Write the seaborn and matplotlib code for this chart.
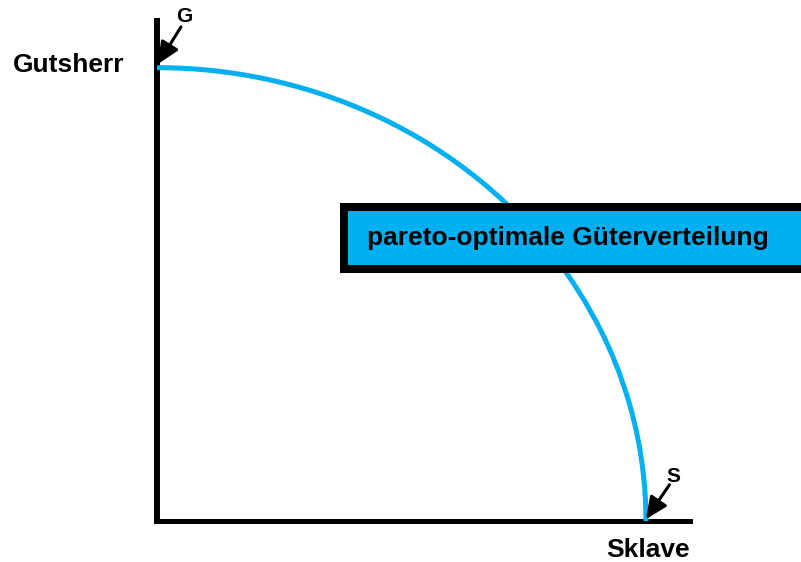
import matplotlib
matplotlib.use("Agg")
import matplotlib.pyplot as plt
import seaborn as sns
import pandas as pd
from matplotlib.patches import Rectangle

# data (% of maximum)
sklave = [0, 2.5, 5, 7.5, 10, 12.5, 15, 17.5, 20, 22.5, 25, 27.5, 30, 32.5, 35, 37.5, 40, 42.5, 45, 47.5,
          50, 52.5, 55, 57.5, 60, 62.5, 65, 67.5, 70, 72.5, 75, 77.5, 80, 82.5, 85, 87.5, 90, 91.5, 93,
          94.5, 96, 97, 98, 98.7, 99.3, 99.7, 99.9, 100]
gutsherr = [100, 99.97, 99.87, 99.72, 99.50, 99.22, 98.87, 98.46, 97.98, 97.44, 96.82, 96.14, 95.39, 94.57,
            93.67, 92.70, 91.65, 90.52, 89.30, 88.00, 86.60, 85.11, 83.52, 81.81, 80.00, 78.06, 75.99, 73.78,
            71.41, 68.87, 66.14, 63.20, 60.00, 56.52, 52.68, 48.41, 43.59, 40.34, 36.76, 32.71, 28.00, 24.31,
            19.90, 16.07, 11.81, 7.74, 4.47, 0]
y_label = "Gutsherr"
x_label = "Sklave"
box_label = "pareto-optimale Güterverteilung"
g_label = "G"
s_label = "S"

sns.set_theme(style="white")
plt.rcParams['font.family'] = ['Liberation Sans', 'DejaVu Sans']
plt.rcParams['text.color'] = 'black'

BLUE = "#00B0F0"
fig = plt.figure(figsize=(8.01, 5.62), dpi=100)
ax = fig.add_axes([157/801, 41.5/562, 533/801, 499.5/562])

df = pd.DataFrame({"x": sklave, "y": gutsherr})
sns.lineplot(data=df, x="x", y="y", ax=ax, color=BLUE, linewidth=3.6, estimator=None, sort=False, zorder=3)

ax.set_xlim(0, 109)
ax.set_ylim(0, 110.3)
ax.set_xticks([])
ax.set_yticks([])
ax.set_xlabel("")
ax.set_ylabel("")
for s in ["top", "right"]:
    ax.spines[s].set_visible(False)
ax.spines["left"].set_linewidth(4.3)
ax.spines["bottom"].set_linewidth(3.6)
for s in ["left", "bottom"]:
    ax.spines[s].set_color("black")
    ax.spines[s].set_zorder(2)

fs = 19
ax.text(-18.0, 100.6, y_label, ha="center", va="center", fontsize=fs, fontweight="bold", color="black", clip_on=False)
ax.text(100.4, -6.6, x_label, ha="center", va="center", fontsize=fs, fontweight="bold", color="black", clip_on=False)

aprops = dict(arrowstyle="-|>,head_length=1.1,head_width=0.5", color="black", lw=2.2, shrinkA=0, shrinkB=0)
ax.annotate("", xy=(0.2, 100.8), xytext=(4.9, 109.0), annotation_clip=False, arrowprops=aprops)
ax.annotate("", xy=(100, 0.3), xytext=(104.8, 7.9), annotation_clip=False, arrowprops=aprops)
ax.text(5.5, 111.2, g_label, ha="center", va="center", fontsize=15, fontweight="bold", color="black", clip_on=False)
ax.text(105.6, 9.8, s_label, ha="center", va="center", fontsize=15, fontweight="bold", color="black", clip_on=False)

# label box
fig.patches.append(Rectangle((340/801, (562-273)/562), 0.7, 70/562, transform=fig.transFigure,
                             facecolor="black", edgecolor="none", zorder=5))
fig.patches.append(Rectangle((348/801, (562-265)/562), 0.7, 54/562, transform=fig.transFigure,
                             facecolor=BLUE, edgecolor="none", zorder=6))
fig.text(367/801, (562-238)/562, box_label, ha="left", va="center", fontsize=fs, fontweight="bold",
         color="black", zorder=7)

fig.savefig("out.png", dpi=100)
